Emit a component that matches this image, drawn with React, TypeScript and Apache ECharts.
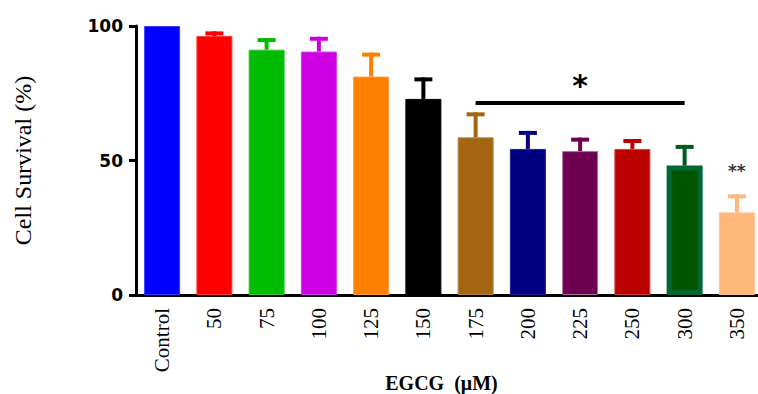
import React, { useEffect, useRef } from "react";
import * as echarts from "echarts";

const categories = ["Control", "50", "75", "100", "125", "150", "175", "200", "225", "250", "300", "350"];
const means = [100, 96.3, 91.2, 90.5, 81.2, 72.9, 58.6, 54.3, 53.5, 54.3, 48.1, 30.7];
const errors = [0, 1.7, 4.3, 5.5, 8.9, 8.0, 9.3, 6.7, 5.0, 3.7, 7.7, 6.7];
const colors = ["#0000FF", "#FF0000", "#00BB00", "#CC00E0", "#FF8000", "#000000", "#A3650F", "#000080", "#6E0050", "#BB0000", "#005500", "#FFB87A"];
const borderColors = ["#3A3AFF", "#FF3A3A", "#30C830", "#D040E8", "#FF9A40", "#000000", "#B8844A", "#202090", "#B070A0", "#D04040", "#006633", "#FFC090"];
const errColors = ["#0000FF", "#FF0000", "#00BB00", "#CC00E0", "#FF8000", "#000000", "#A3650F", "#000080", "#6E0050", "#BB0000", "#005A22", "#FFB87A"];
const yTicks = { min: 0, max: 100, interval: 50 };
const sigFrom = "175";
const sigTo = "300";
const sigLevel = 71.5;
const sig2Category = "350";
const sig2Level = 46;

export default function App() {
  const ref = useRef<HTMLDivElement>(null);
  useEffect(() => {
    document.body.style.margin = "0";
    const chart = echarts.init(ref.current!, null, { renderer: "svg" });
    const serif = "'Liberation Serif', 'Times New Roman', serif";
    chart.setOption({
      animation: false,
      backgroundColor: "#ffffff",
      grid: { left: 136, top: 26, bottom: 99, right: -5, containLabel: false, outerBoundsMode: "none" },
      xAxis: {
        type: "category",
        data: categories,
        axisLine: { lineStyle: { color: "#000", width: 3 } },
        axisTick: { alignWithLabel: true, length: 8, lineStyle: { color: "#000", width: 3 } },
        axisLabel: { rotate: 90, margin: 13, color: "#000", fontFamily: serif, fontSize: 21 },
        name: "EGCG  (\u03bcM)",
        nameLocation: "middle",
        nameGap: 78,
        nameMoveOverlap: false,
        nameTextStyle: { fontFamily: serif, fontSize: 20, fontWeight: "bold", color: "#000", padding: [0, 16, 0, 0] },
      },
      yAxis: {
        type: "value",
        min: yTicks.min,
        max: yTicks.max,
        interval: yTicks.interval,
        splitLine: { show: false },
        axisLine: { show: true, lineStyle: { color: "#000", width: 3 } },
        axisTick: { show: true, length: 7, lineStyle: { color: "#000", width: 3 } },
        axisLabel: { margin: 13, color: "#000", fontFamily: "'DejaVu Sans', sans-serif", fontWeight: "bold", fontSize: 17 },
        name: "Cell Survival (%)",
        nameLocation: "middle",
        nameGap: 101,
        nameMoveOverlap: false,
        nameTextStyle: { fontFamily: serif, fontSize: 24, color: "#000" },
      },
      series: [
        {
          type: "bar",
          barWidth: 36,
          data: means.map((v, i) => ({
            value: v,
            itemStyle: {
              color: colors[i],
              borderColor: borderColors[i],
              borderWidth: i === 10 ? 5 : 1,
            },
          })),
          markLine: {
            silent: true,
            symbol: "none",
            lineStyle: { color: "#000", width: 4, type: "solid" },
            label: {
              show: true,
              position: "middle",
              formatter: "*",
              color: "#000",
              fontSize: 30,
              fontWeight: "bold",
              fontFamily: "'DejaVu Sans', sans-serif",
              distance: 2,
            },
            data: [[{ coord: [sigFrom, sigLevel] }, { coord: [sigTo, sigLevel] }]],
          },
        },
        {
          type: "custom",
          encode: { x: 0, y: 1 },
          data: categories.map((c, i) => [i, means[i], errors[i]]),
          z: 3,
          renderItem: (params: any, api: any) => {
            const idx = api.value(0);
            const m = api.value(1);
            const e = api.value(2);
            if (!e) return null;
            const base = api.coord([idx, m]);
            const top = api.coord([idx, m + e]);
            const col = errColors[idx];
            return {
              type: "group",
              children: [
                { type: "rect", shape: { x: base[0] - 2, y: top[1], width: 4, height: base[1] - top[1] }, style: { fill: col } },
                { type: "rect", shape: { x: base[0] - 9, y: top[1], width: 18, height: 4 }, style: { fill: col } },
              ],
            };
          },
        },
        {
          type: "scatter",
          symbolSize: 0,
          data: [[sig2Category, sig2Level]],
          label: {
            show: true,
            position: "inside",
            formatter: "**",
            color: "#000",
            fontSize: 17,
            fontWeight: "bold",
            fontFamily: "'DejaVu Sans', sans-serif",
          },
        },
      ],
    });
    return () => chart.dispose();
  }, []);
  return <div ref={ref} style={{ width: 758, height: 394 }} />;
}
